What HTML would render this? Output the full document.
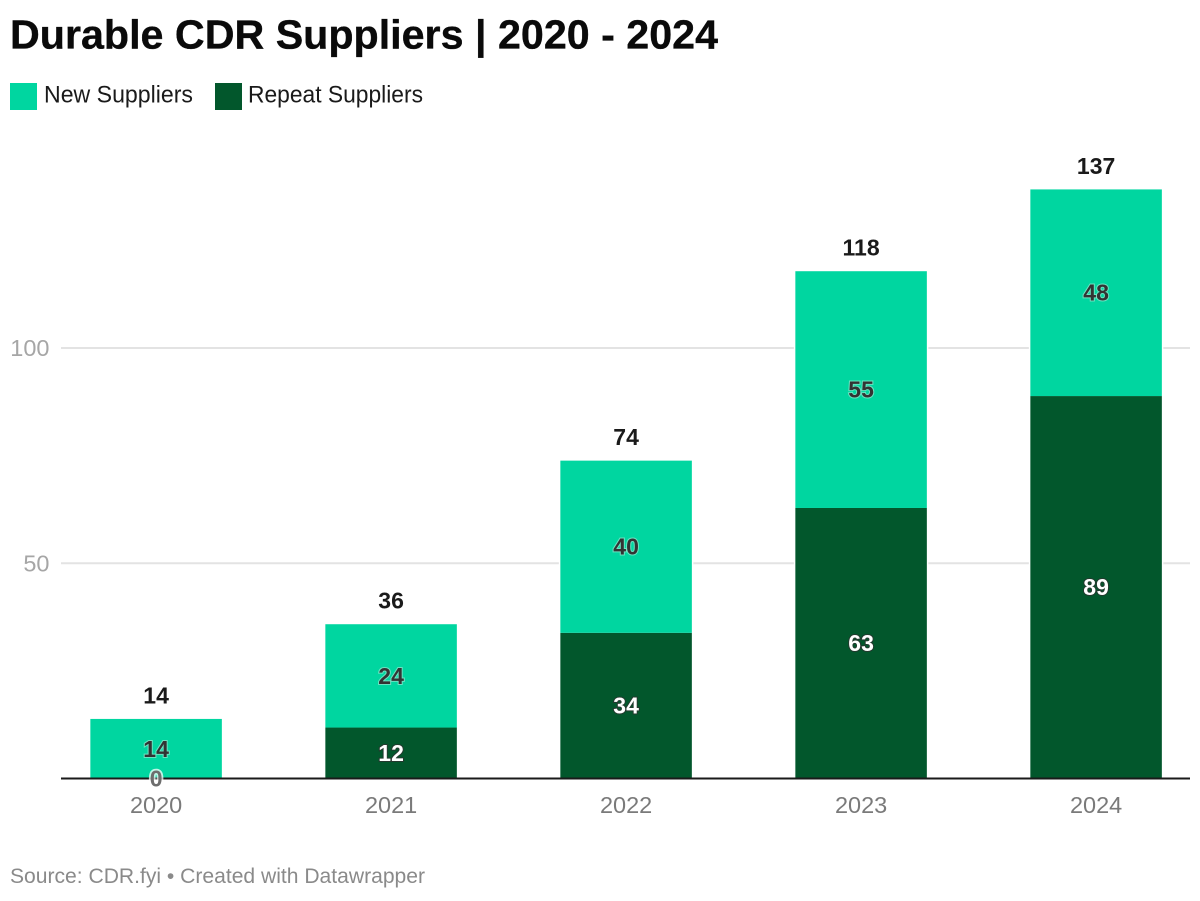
<!DOCTYPE html>
<html lang="en">
<head>
<meta charset="utf-8">
<title>Durable CDR Suppliers | 2020 - 2024</title>
<style>
html,body{margin:0;padding:0;background:#fff;}
body{width:1200px;height:901px;overflow:hidden;}
svg{display:block;font-family:"Liberation Sans",sans-serif;}
</style>
</head>
<body>
<svg id="chart" width="1200" height="901" viewBox="0 0 1200 901" xmlns="http://www.w3.org/2000/svg">
  <text x="10" y="48.5" font-size="41" font-weight="700" fill="#0a0a0a" stroke="#0a0a0a" stroke-width="0.35" textLength="708" lengthAdjust="spacingAndGlyphs">Durable CDR Suppliers | 2020 - 2024</text>
  <g>
    <rect x="10" y="83" width="27" height="27" fill="#00d6a0"></rect>
    <text x="44" y="102.5" font-size="24.5" fill="#1a1a1a" textLength="149" lengthAdjust="spacingAndGlyphs">New Suppliers</text>
    <rect x="215" y="83" width="27" height="27" fill="#02572c"></rect>
    <text x="248" y="102.5" font-size="24.5" fill="#1a1a1a" textLength="175" lengthAdjust="spacingAndGlyphs">Repeat Suppliers</text>
  </g>
  <g id="grid"></g>
  <g id="bars"></g>
  <line x1="61" x2="1190" y1="778.5" y2="778.5" stroke="#1a1a1a" stroke-width="2"></line>
  <g id="labels"></g>
  <g id="xticks"></g>
  <text x="10" y="883" font-size="21.5" fill="#8a8a8a" textLength="415" lengthAdjust="spacingAndGlyphs">Source: CDR.fyi • Created with Datawrapper</text>
</svg>
<script>
const categories = ['2020', '2021', '2022', '2023', '2024'];
const repeatSuppliers = [0, 12, 34, 63, 89];
const newSuppliers = [14, 24, 40, 55, 48];
const totals = [14, 36, 74, 118, 137];
const yTicks = [50, 100];

const NS = 'http://www.w3.org/2000/svg';
const yBase = 779.2;
const yPerUnit = 4.305;
const xStart = 38.6;
const slotWidth = 235;
const barWidth = 131.5;

function yScale(v) { return yBase - v * yPerUnit; }
function xCenter(i) { return xStart + slotWidth * (i + 0.5); }

function make(tag, parent, attrs, text) {
  const el = document.createElementNS(NS, tag);
  for (const k in attrs) el.setAttribute(k, attrs[k]);
  if (text !== undefined) el.textContent = text;
  parent.appendChild(el);
  return el;
}

const grid = document.getElementById('grid');
const bars = document.getElementById('bars');
const labels = document.getElementById('labels');
const xticks = document.getElementById('xticks');

yTicks.forEach(function (t) {
  const gy = yScale(t) - 0.7;
  const line = make('line', grid, { x1: 61, x2: 1190, y1: gy, y2: gy, stroke: '#e3e3e3', 'stroke-width': 2 });
  
  
  const lab = make('text', grid, { x: 49.5, y: gy + 8, 'text-anchor': 'end', 'font-size': 23.5, fill: '#a6a6a6' }, String(t));
  
  
});

function segmentLabel(value, cx, cy, fill, halo, haloWidth, name) {
  const t = make('text', labels, {
    x: cx, y: cy + 8, 'text-anchor': 'middle', 'font-size': 23, 'font-weight': 700,
    fill: fill, stroke: halo, 'stroke-width': haloWidth, 'stroke-opacity': 0.75, 'paint-order': 'stroke'
  }, String(value));
  
  
}

categories.forEach(function (cat, i) {
  const cx = xCenter(i);
  const x = cx - barWidth / 2;
  const r = repeatSuppliers[i];
  const n = newSuppliers[i];

  const gap = make('rect', bars, { x: x - 1.5, y: yScale(r + n), width: barWidth + 3, height: yBase - yScale(r + n), fill: '#ffffff' });
  
  

  const rb = make('rect', bars, { x: x, y: yScale(r), width: barWidth, height: yBase - yScale(r), fill: '#02572c' });
  
  

  const nb = make('rect', bars, { x: x, y: yScale(r + n), width: barWidth, height: yScale(r) - yScale(r + n), fill: '#00d6a0' });
  
  

  segmentLabel(n, cx, yScale(r + n / 2), '#333333', '#8fe6cc', 2, 'value-new-' + cat);
  segmentLabel(r, cx, yScale(r / 2) - 0.5, r === 0 ? '#6e6e6e' : '#ffffff', r === 0 ? '#ffffff' : '#2f2f2f', r === 0 ? 3.5 : 2, 'value-repeat-' + cat);

  const total = make('text', labels, { x: cx, y: yScale(totals[i]) - 15.5, 'text-anchor': 'middle', 'font-size': 23, 'font-weight': 700, fill: '#1a1a1a' }, String(totals[i]));
  
  

  const tick = make('text', xticks, { x: cx, y: 813, 'text-anchor': 'middle', 'font-size': 23.5, fill: '#7a7a7a' }, cat);
  
  
});
</script>
</body>
</html>
